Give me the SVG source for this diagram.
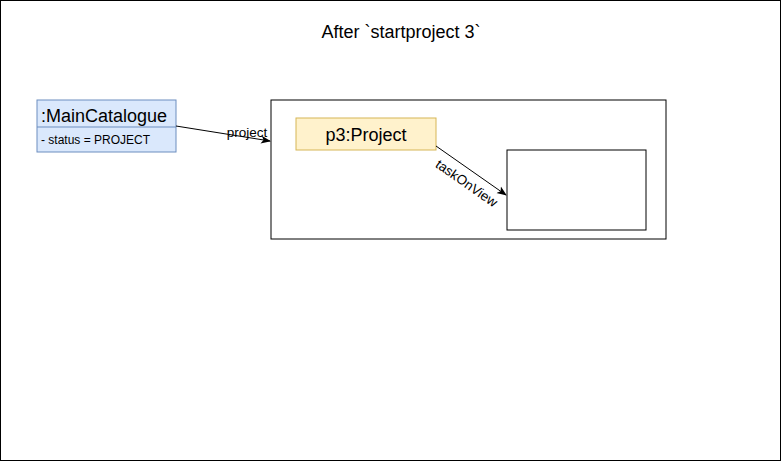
<svg xmlns="http://www.w3.org/2000/svg" width="781" height="461" viewBox="0 0 781 461">
<style>
text{font-family:"Liberation Sans",Arial,sans-serif;fill:#000}
.line{stroke:#000;stroke-width:1;fill:none}
</style>
<defs>
<marker id="arr" viewBox="0 0 10 10" refX="9" refY="5" markerWidth="10" markerHeight="10" markerUnits="userSpaceOnUse" orient="auto">
<path d="M0,1 L10,5 L0,9 L2.5,5 Z" fill="#000"/>
</marker>
</defs>
<rect x="0.5" y="0.5" width="780" height="460" fill="#fff" stroke="#000"/>
<text x="401" y="38" font-size="18" text-anchor="middle">After `startproject 3`</text>
<g id="frame">
<rect x="271" y="100" width="395" height="139" fill="#fff" stroke="#000"/>
</g>
<g id="taskbox">
<rect x="507" y="150" width="139" height="80" fill="#fff" stroke="#000"/>
</g>
<g id="maincatalogue">
<rect x="37" y="100" width="139" height="52" fill="#dae8fc" stroke="#6c8ebf"/>
<line x1="37" y1="127" x2="176" y2="127" stroke="#6c8ebf"/>
<text x="41" y="122" font-size="18">:MainCatalogue</text>
<text x="41" y="144" font-size="12">- status = PROJECT</text>
</g>
<g id="project">
<rect x="296" y="118" width="140" height="32" fill="#fff2cc" stroke="#d6b656"/>
<text x="366" y="141" font-size="18" text-anchor="middle">p3:Project</text>
</g>
<g id="connectors">
<line class="line" x1="176" y1="126" x2="270" y2="141" marker-end="url(#arr)"/>
<text x="247" y="137" font-size="13.5" text-anchor="middle">project</text>
<line class="line" x1="436" y1="146" x2="506" y2="195" marker-end="url(#arr)"/>
<text x="0" y="0" font-size="13.5" text-anchor="middle" transform="translate(464,187) rotate(35)">taskOnView</text>
</g>
</svg>
